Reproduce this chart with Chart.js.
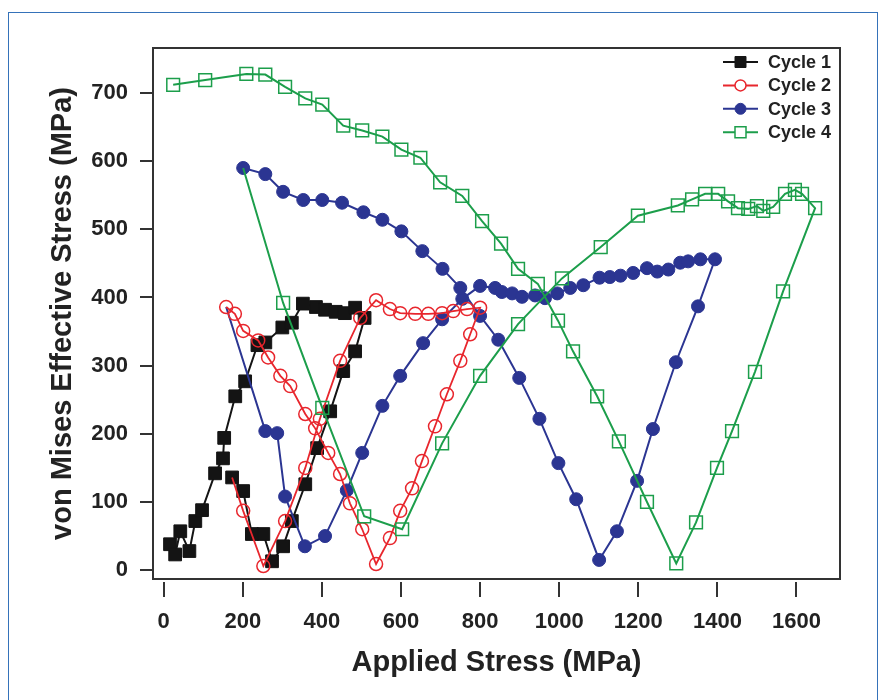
<!DOCTYPE html>
<html lang="en">
<head>
<meta charset="UTF-8">
<title>von Mises Effective Stress vs Applied Stress</title>
<script src="https://cdn.jsdelivr.net/npm/chart.js@4"></script>
<style>
  html, body { margin: 0; padding: 0; background: #fff; }
  body { width: 885px; height: 700px; position: relative; overflow: hidden; }
  /* thin blue page frame around the figure */
  .frame { position: absolute; left: 8px; top: 12px; width: 868px; height: 720px; border: 1px solid #3572b9; }
  #wrap { position: absolute; left: 0; top: 0; width: 885px; height: 700px; }
</style>
</head>
<body>
<div class="frame"></div>
<div id="wrap"><canvas id="stressChart" width="885" height="700"></canvas></div>

<script>
// Applied stress (MPa) and von Mises effective stress (MPa) for each loading cycle
const cycle1Stress = [16, 29, 42, 65, 80, 97, 130, 150, 153, 181, 206, 237, 257, 300, 324, 352, 385, 408, 435, 458, 484, 508, 484, 454, 421, 388, 358, 324, 302, 274, 252, 223, 201, 173];
const cycle1VonMises = [38, 23, 57, 28, 72, 88, 142, 164, 194, 255, 277, 330, 334, 356, 363, 391, 386, 382, 379, 377, 385, 370, 321, 292, 233, 179, 126, 72, 35, 13, 53, 53, 116, 136];

const cycle2Stress = [173, 201, 252, 307, 358, 395, 446, 497, 537, 572, 598, 636, 669, 704, 732, 767, 800, 775, 750, 716, 686, 653, 628, 598, 572, 537, 502, 471, 446, 416, 383, 358, 320, 295, 264, 239, 201, 180, 158];
const cycle2VonMises = [136, 87, 6, 72, 150, 222, 307, 370, 396, 383, 377, 376, 376, 377, 380, 383, 385, 346, 307, 258, 211, 160, 120, 87, 47, 9, 60, 98, 141, 172, 208, 229, 270, 285, 312, 337, 351, 376, 386];

const cycle3Stress = [158, 257, 287, 307, 357, 408, 463, 502, 553, 598, 656, 704, 755, 800, 838, 855, 881, 906, 939, 964, 995, 1028, 1061, 1102, 1128, 1155, 1187, 1222, 1248, 1276, 1306, 1326, 1357, 1394, 1351, 1295, 1237, 1197, 1146, 1101, 1043, 998, 950, 899, 846, 800, 750, 705, 654, 601, 553, 505, 451, 401, 353, 302, 257, 201];
const cycle3VonMises = [386, 204, 201, 108, 35, 50, 117, 172, 241, 285, 333, 368, 398, 417, 414, 408, 406, 401, 403, 399, 406, 414, 418, 429, 430, 432, 436, 443, 438, 441, 451, 453, 456, 456, 387, 305, 207, 131, 57, 15, 104, 157, 222, 282, 338, 373, 414, 442, 468, 497, 514, 525, 539, 543, 543, 555, 581, 590];

const cycle4Stress = [201, 302, 401, 507, 603, 704, 800, 896, 1007, 1105, 1199, 1300, 1336, 1369, 1402, 1427, 1452, 1478, 1500, 1516, 1541, 1571, 1596, 1614, 1647, 1566, 1495, 1437, 1399, 1346, 1296, 1222, 1151, 1096, 1035, 997, 946, 896, 853, 805, 755, 699, 649, 601, 553, 502, 454, 401, 358, 307, 257, 209, 105, 24];
const cycle4VonMises = [590, 392, 238, 79, 60, 186, 285, 361, 428, 474, 520, 535, 544, 552, 552, 541, 531, 530, 534, 527, 533, 552, 558, 552, 531, 409, 291, 204, 150, 70, 10, 100, 189, 255, 321, 366, 420, 442, 479, 512, 549, 569, 605, 617, 636, 645, 652, 683, 692, 709, 727, 728, 719, 712];

const cycleNames = ['Cycle 1', 'Cycle 2', 'Cycle 3', 'Cycle 4'];
const xTicks = [0, 200, 400, 600, 800, 1000, 1200, 1400, 1600];
const yTicks = [0, 100, 200, 300, 400, 500, 600, 700];

const toPoints = (xs, ys) => xs.map((x, i) => ({ x: x, y: ys[i] }));

// cycles 2-4 pick up from the last point of the previous cycle, that point has no marker
const hideFirst = r => ctx => (ctx.dataIndex === 0 ? 0 : r);

const INK = '#222';
const FONT = '"Liberation Sans", Arial, sans-serif';

const datasets = [
  {
    label: cycleNames[0],
    data: toPoints(cycle1Stress, cycle1VonMises),
    borderColor: '#141414', backgroundColor: '#141414',
    borderWidth: 2, pointStyle: 'rect', pointRadius: 9,
    pointBorderWidth: 1, order: 3
  },
  {
    label: cycleNames[1],
    data: toPoints(cycle2Stress, cycle2VonMises),
    borderColor: '#e8262d', backgroundColor: 'rgba(0,0,0,0)',
    borderWidth: 1.8, pointStyle: 'circle', pointRadius: hideFirst(6.5),
    pointBorderWidth: 1.5, order: 1
  },
  {
    label: cycleNames[2],
    data: toPoints(cycle3Stress, cycle3VonMises),
    borderColor: '#2b3592', backgroundColor: '#2b3592',
    borderWidth: 2, pointStyle: 'circle', pointRadius: hideFirst(6.5),
    pointBorderWidth: 1, order: 2
  },
  {
    label: cycleNames[3],
    data: toPoints(cycle4Stress, cycle4VonMises),
    borderColor: '#1c9e4b', backgroundColor: 'rgba(0,0,0,0)',
    borderWidth: 2, pointStyle: 'rect', pointRadius: hideFirst(9),
    pointBorderWidth: 1.5, order: 0
  }
];

// plot box, outside tick marks and the legend in the upper right corner
const framePlugin = {
  id: 'frameAndLegend',
  afterDraw(chart) {
    const { ctx, chartArea: a, scales } = chart;
    ctx.save();
    ctx.strokeStyle = '#333';
    ctx.lineWidth = 2;
    ctx.strokeRect(a.left, a.top, a.right - a.left, a.bottom - a.top);

    ctx.beginPath();
    xTicks.forEach(v => {
      const px = Math.round(scales.x.getPixelForValue(v));
      ctx.moveTo(px, a.bottom + 3);
      ctx.lineTo(px, a.bottom + 18);
    });
    yTicks.forEach(v => {
      const py = Math.round(scales.y.getPixelForValue(v));
      ctx.moveTo(a.left - 13, py);
      ctx.lineTo(a.left - 1, py);
    });
    ctx.stroke();

    // legend
    chart.data.datasets.forEach((ds, i) => {
      const y = a.top + 14 + i * 23.4;
      const x0 = a.right - 117, x1 = a.right - 82, xm = (x0 + x1) / 2;
      ctx.strokeStyle = ds.borderColor;
      ctx.lineWidth = 2;
      ctx.beginPath();
      ctx.moveTo(x0, y);
      ctx.lineTo(x1, y);
      ctx.stroke();
      ctx.lineWidth = ds.pointBorderWidth;
      const filled = ds.backgroundColor !== 'rgba(0,0,0,0)';
      ctx.fillStyle = filled ? ds.borderColor : '#fff';
      ctx.beginPath();
      if (ds.pointStyle === 'rect') {
        ctx.rect(xm - 5.5, y - 5.5, 11, 11);
      } else {
        ctx.arc(xm, y, 5.5, 0, Math.PI * 2);
      }
      ctx.fill();
      ctx.stroke();

      ctx.fillStyle = INK;
      ctx.font = 'bold 18px ' + FONT;
      ctx.textBaseline = 'middle';
      ctx.textAlign = 'left';
      ctx.fillText(ds.label, a.right - 72, y + 1);
    });
    ctx.restore();
  }
};

const tickFont = { family: FONT, size: 22, weight: 'bold' };
const titleFont = { family: FONT, size: 29, weight: 'bold' };

new Chart(document.getElementById('stressChart'), {
  type: 'scatter',
  data: { datasets: datasets.map(d => Object.assign({ showLine: true, tension: 0 }, d)) },
  options: {
    responsive: false,
    animation: false,
    events: [],
    layout: { padding: { top: 48, right: 45, left: 0, bottom: 0 } },
    plugins: { legend: { display: false }, tooltip: { enabled: false } },
    scales: {
      x: {
        type: 'linear', min: -27, max: 1710,
        afterBuildTicks: s => { s.ticks = xTicks.map(v => ({ value: v })); },
        afterFit: s => { s.height = 121; },
        grid: { display: false },
        border: { display: false },
        ticks: { font: tickFont, color: INK, padding: 22, maxRotation: 0, autoSkip: false, callback: v => String(v) },
        title: { display: true, text: 'Applied Stress (MPa)', font: titleFont, color: INK, padding: { top: 0, bottom: 20 } }
      },
      y: {
        type: 'linear', min: -13, max: 766,
        afterBuildTicks: s => { s.ticks = yTicks.map(v => ({ value: v })); },
        afterFit: s => { s.width = 153; },
        grid: { display: false },
        border: { display: false },
        ticks: { font: tickFont, color: INK, padding: 17, autoSkip: false, callback: v => String(v) },
        title: { display: true, text: 'von Mises Effective Stress (MPa)', font: titleFont, color: INK, padding: { top: 46, bottom: 0 } }
      }
    }
  },
  plugins: [framePlugin]
});
</script>
</body>
</html>
